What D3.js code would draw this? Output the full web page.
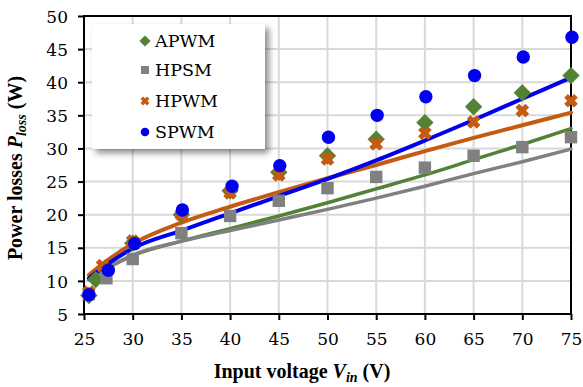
<!DOCTYPE html>
<html>
<head>
<meta charset="utf-8">
<script src="https://cdn.jsdelivr.net/npm/d3@7"></script>
<style>
  body { margin: 0; background: #fff; }
  svg { display: block; }
  .tick text { font-family: "DejaVu Serif", serif; font-size: 17px; fill: #000; }
  .title { font-family: "Liberation Serif", serif; font-weight: bold; font-size: 20px; fill: #000; }
  .leg { font-family: "DejaVu Serif", serif; font-size: 17.5px; fill: #000; }
</style>
</head>
<body>
<svg id="chart" width="583" height="387"></svg>
<script>
      // measured points
      const apwmX = [25.5, 26.2, 30, 35, 40, 45, 50, 55, 60, 65, 70, 75];
      const apwmY = [7.8, 10.2, 15.7, 20.0, 23.6, 26.4, 28.9, 31.4, 33.9, 36.3, 38.4, 41.0];
      const hpsmX = [25.5, 27.3, 30, 35, 40, 45, 50, 55, 60, 65, 70, 75];
      const hpsmY = [8.0, 10.4, 13.3, 17.2, 19.8, 22.1, 24.0, 25.7, 27.1, 28.9, 30.2, 31.7];
      const hpwmX = [25.5, 26.9, 30, 35, 40, 45, 50, 55, 60, 65, 70, 75];
      const hpwmY = [8.3, 12.3, 16.0, 20.0, 23.3, 26.0, 28.4, 30.7, 32.3, 34.0, 35.7, 37.2];
      const spwmX = [25.5, 27.5, 30.2, 35.1, 40.2, 45.1, 50.1, 55.1, 60.1, 65.1, 70.1, 75.1];
      const spwmY = [7.9, 11.6, 15.6, 20.7, 24.3, 27.4, 31.7, 35.0, 37.8, 41.0, 43.8, 46.8];

      // fitted trend curves
      const trendX = [25.5, 27.5, 30, 35, 40, 45, 50, 55, 60, 65, 70, 75];
      const apwmTrend = [10.2, 12.0, 13.8, 16.0, 17.9, 19.8, 21.8, 23.9, 26.0, 28.3, 30.6, 33.0];
      const hpsmTrend = [10.2, 12.0, 13.9, 16.0, 17.6, 19.2, 20.8, 22.5, 24.3, 26.2, 28.0, 29.9];
      const hpwmTrend = [10.9, 13.2, 15.6, 18.8, 21.2, 23.4, 25.5, 27.5, 29.6, 31.6, 33.5, 35.4];
      const spwmTrend = [10.4, 12.6, 14.9, 17.6, 20.2, 22.8, 25.4, 28.2, 31.2, 34.3, 37.5, 40.7];

      const xTicks = [25, 30, 35, 40, 45, 50, 55, 60, 65, 70, 75];
      const yTicks = [5, 10, 15, 20, 25, 30, 35, 40, 45, 50];

      const series = [
        { name: "APWM", color: "#548235", shape: "diamond", xs: apwmX, ys: apwmY, trend: apwmTrend, lw: 3.5 },
        { name: "HPSM", color: "#808080", shape: "square", xs: hpsmX, ys: hpsmY, trend: hpsmTrend, lw: 3.5 },
        { name: "HPWM", color: "#C55A11", shape: "cross", xs: hpwmX, ys: hpwmY, trend: hpwmTrend, lw: 4 },
        { name: "SPWM", color: "#0000EE", shape: "circle", xs: spwmX, ys: spwmY, trend: spwmTrend, lw: 4 },
      ];

      const plotLeft = 84, plotRight = 571, plotTop = 16, plotBottom = 314;
      const x = d3.scaleLinear().domain([25, 75]).range([plotLeft, plotRight]);
      const y = d3.scaleLinear().domain([5, 50]).range([plotBottom, plotTop]);

      const svg = d3.select("#chart");
      const defs = svg.append("defs");
      const shadow = defs.append("filter").attr("id", "shadow").attr("x", "-20%").attr("y", "-20%").attr("width", "150%").attr("height", "150%");
      shadow.append("feDropShadow").attr("dx", 4).attr("dy", 4).attr("stdDeviation", 3).attr("flood-color", "#000").attr("flood-opacity", 0.45);

      // grid
      const grid = svg.append("g");
      grid.selectAll("line.gx").data(xTicks).join("line")
        .attr("x1", (d) => x(d)).attr("x2", (d) => x(d)).attr("y1", plotTop).attr("y2", plotBottom)
        .attr("stroke", "#d9d9d9").attr("stroke-width", 2);
      grid.selectAll("line.gy").data(yTicks).join("line")
        .attr("x1", plotLeft).attr("x2", plotRight).attr("y1", (d) => y(d)).attr("y2", (d) => y(d))
        .attr("stroke", "#d9d9d9").attr("stroke-width", 2);

      // axes
      const xAxis = svg.append("g").attr("transform", `translate(0,${plotBottom})`)
        .call(d3.axisBottom(x).tickValues(xTicks).tickSize(6).tickPadding(10));
      const yAxis = svg.append("g").attr("transform", `translate(${plotLeft},0)`)
        .call(d3.axisLeft(y).tickValues(yTicks).tickSize(6).tickPadding(10));
      [xAxis, yAxis].forEach((axis) => {
        axis.select(".domain").remove();
        axis.selectAll(".tick line").attr("stroke", "#000").attr("stroke-width", 2);
      });
      xAxis.selectAll(".tick text").attr("dy", "0.9em");
      yAxis.selectAll(".tick text").attr("dy", "0.36em");

      svg.append("rect").attr("x", plotLeft).attr("y", plotTop).attr("width", plotRight - plotLeft).attr("height", plotBottom - plotTop)
        .attr("fill", "none").attr("stroke", "#000").attr("stroke-width", 2);

      // trend lines
      const line = d3.line().x((d) => x(d[0])).y((d) => y(d[1])).curve(d3.curveMonotoneX);
      series.forEach((s) => {
        svg.append("path").attr("d", line(trendX.map((v, i) => [v, s.trend[i]])))
          .attr("fill", "none").attr("stroke", s.color).attr("stroke-width", s.lw).attr("stroke-linecap", "round");
      });

      function drawMarker(g, shape, color, r) {
        if (shape === "circle") {
          g.append("circle").attr("r", r * 1.08).attr("fill", color);
        } else if (shape === "square") {
          g.append("rect").attr("x", -r).attr("y", -r).attr("width", 2 * r).attr("height", 2 * r).attr("fill", color);
        } else if (shape === "diamond") {
          const h = r * 1.4;
          g.append("path").attr("d", `M0,${-h}L${h},0L0,${h}L${-h},0Z`).attr("fill", color);
        } else {
          const a = r * 0.8;
          g.append("path").attr("d", `M${-a},${-a}L${a},${a}M${a},${-a}L${-a},${a}`)
            .attr("stroke", color).attr("stroke-width", r * 0.85).attr("stroke-linecap", "butt");
        }
      }

      series.forEach((s) => {
        s.xs.forEach((v, i) => {
          const g = svg.append("g").attr("transform", `translate(${x(v)},${y(s.ys[i])})`);
          drawMarker(g, s.shape, s.color, 6.2);
        });
      });

      // legend
      const legend = svg.append("g");
      legend.append("rect").attr("x", 92).attr("y", 24).attr("width", 173).attr("height", 125)
        .attr("fill", "#fff").attr("filter", "url(#shadow)");
      const rowsY = [41, 70, 101, 132];
      series.forEach((s, i) => {
        const g = legend.append("g").attr("transform", `translate(145,${rowsY[i]})`);
        drawMarker(g, s.shape, s.color, 4);
        legend.append("text").attr("class", "leg").attr("x", 155).attr("y", rowsY[i] + 6).text(s.name);
      });

      // axis titles
      const xt = svg.append("text").attr("class", "title").attr("x", 302).attr("y", 378).attr("text-anchor", "middle");
      xt.append("tspan").text("Input voltage ");
      xt.append("tspan").attr("font-style", "italic").text("V");
      xt.append("tspan").attr("font-style", "italic").attr("font-size", "14px").attr("dy", 4).text("in");
      xt.append("tspan").attr("dy", -4).text(" (V)");

      const yt = svg.append("text").attr("class", "title").attr("transform", "translate(22,168) rotate(-90)").attr("text-anchor", "middle");
      yt.append("tspan").text("Power losses ");
      yt.append("tspan").attr("font-style", "italic").text("P");
      yt.append("tspan").attr("font-style", "italic").attr("font-size", "14px").attr("dy", 4).text("loss");
      yt.append("tspan").attr("dy", -4).text(" (W)");
</script>
</body>
</html>
